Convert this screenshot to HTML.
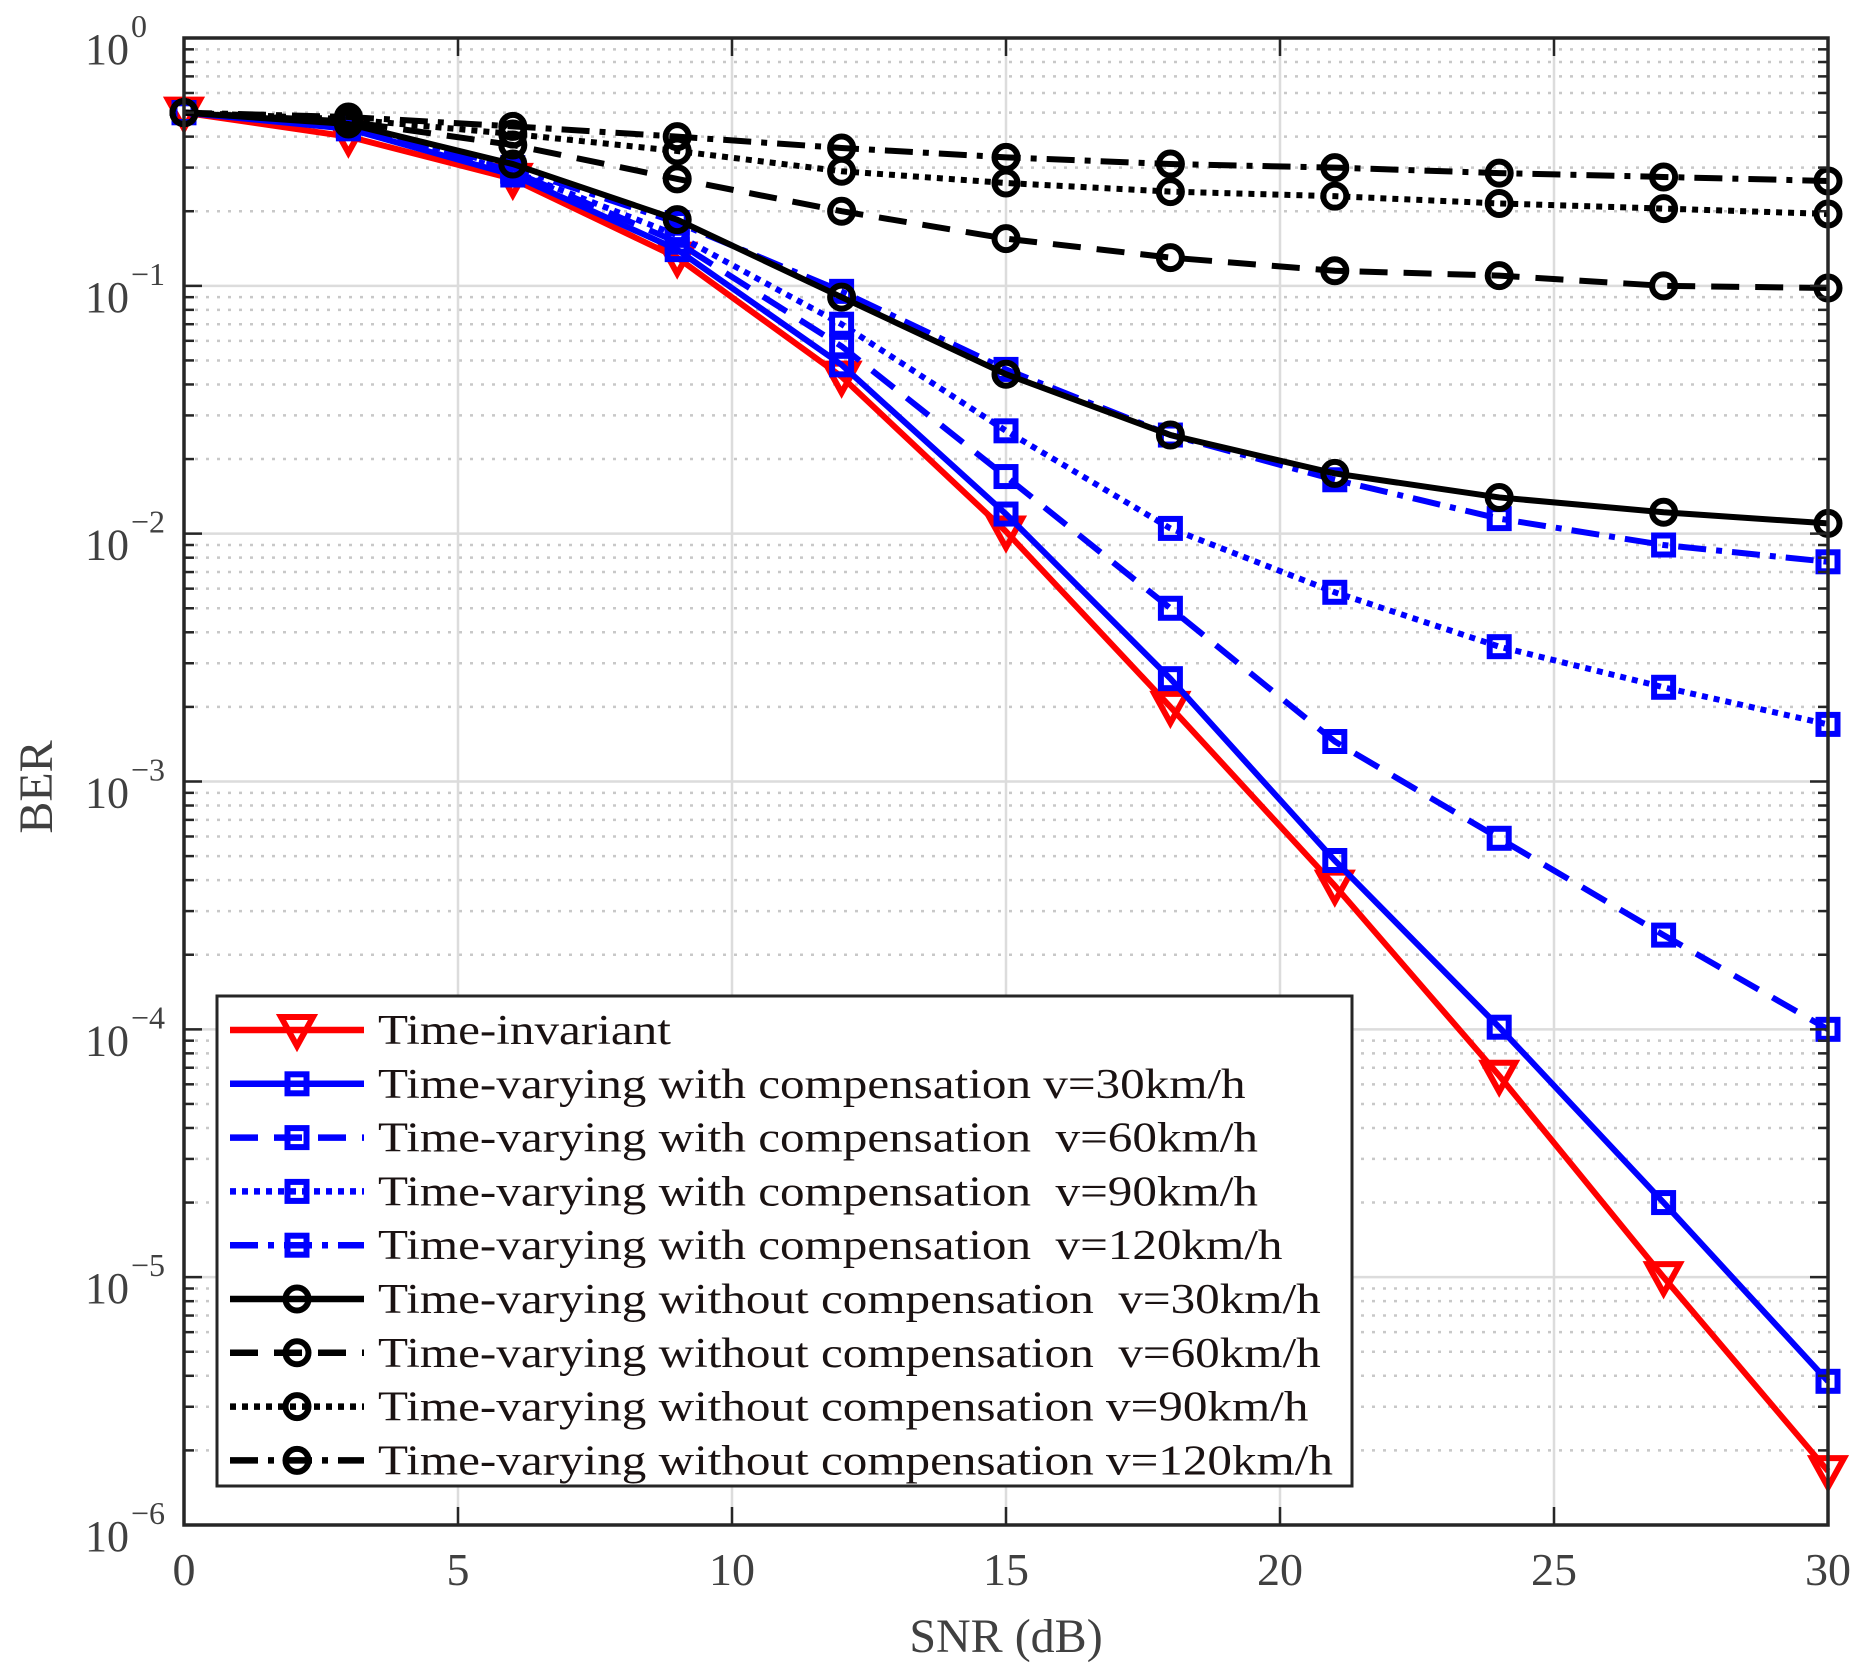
<!DOCTYPE html>
<html><head><meta charset="utf-8"><style>
body{margin:0;background:#fff}
svg text{font-family:"Liberation Serif",serif;fill:#404040;white-space:pre}
</style></head><body>
<svg id="chart" width="1875" height="1673" xmlns="http://www.w3.org/2000/svg" xml:space="preserve">
<g id="grid"></g>
<g id="series"></g>
<g id="axes"></g>
<g id="legend"></g>
</svg>
<script>
const snr=[0,3,6,9,12,15,18,21,24,27,30];
const tiInv=[0.5,0.4,0.27,0.13,0.043,0.0102,0.002,0.00038,6.5e-5,1e-5,1.65e-6];
const comp30=[0.5,0.43,0.28,0.14,0.048,0.012,0.0026,0.00048,0.000102,2e-5,3.8e-6];
const comp60=[0.5,0.44,0.29,0.15,0.057,0.017,0.005,0.00145,0.00059,0.00024,0.0001];
const comp90=[0.5,0.44,0.29,0.16,0.07,0.026,0.0105,0.0058,0.0035,0.0024,0.0017];
const comp120=[0.5,0.45,0.3,0.18,0.095,0.046,0.025,0.0165,0.0115,0.009,0.0077];
const nc30=[0.5,0.45,0.31,0.185,0.09,0.044,0.025,0.0175,0.014,0.0122,0.011];
const nc60=[0.5,0.46,0.37,0.27,0.2,0.155,0.13,0.115,0.11,0.1,0.098];
const nc90=[0.5,0.47,0.41,0.35,0.29,0.26,0.24,0.23,0.215,0.205,0.195];
const nc120=[0.5,0.48,0.44,0.4,0.36,0.33,0.31,0.30,0.285,0.275,0.265];
const xTicks=[0,5,10,15,20,25,30];
const yExps=[0,-1,-2,-3,-4,-5,-6];
const legendLabels=["Time-invariant","Time-varying with compensation v=30km/h","Time-varying with compensation  v=60km/h","Time-varying with compensation  v=90km/h","Time-varying with compensation  v=120km/h","Time-varying without compensation  v=30km/h","Time-varying without compensation  v=60km/h","Time-varying without compensation v=90km/h","Time-varying without compensation v=120km/h"];

const L=184,R=1828,T=38,B=1525;
const X=v=>L+(v-0)/30*(R-L);
const Y=v=>T+(0-Math.log10(v))/6*(B-T);
const NS="http://www.w3.org/2000/svg";
function mk(tag,attrs,parent){const e=document.createElementNS(NS,tag);for(const k in attrs)e.setAttribute(k,attrs[k]);parent.appendChild(e);return e;}
const grid=document.getElementById('grid'),axes=document.getElementById('axes'),ser=document.getElementById('series'),leg=document.getElementById('legend');

for(let d=0;d<6;d++){for(let m=2;m<=9;m++){const y=Y(Math.pow(10,-d-1)*m);
 const g=mk('line',{x1:L,x2:R,y1:y,y2:y,stroke:'#c8c8c8','stroke-width':2.5,'stroke-dasharray':'3 8'},grid);
 
 mk('line',{x1:L,x2:L+10,y1:y,y2:y,stroke:'#262626','stroke-width':2.5},axes);
 mk('line',{x1:R,x2:R-10,y1:y,y2:y,stroke:'#262626','stroke-width':2.5},axes);}}
yExps.forEach(e=>{const y=Y(Math.pow(10,e));
 const g=mk('line',{x1:L,x2:R,y1:y,y2:y,stroke:'#dcdcdc','stroke-width':2.5},grid);
 
 mk('line',{x1:L,x2:L+18,y1:y,y2:y,stroke:'#262626','stroke-width':2.5},axes);
 mk('line',{x1:R,x2:R-18,y1:y,y2:y,stroke:'#262626','stroke-width':2.5},axes);
 const t=mk('text',{x:129,y:y+26,'font-size':44,'text-anchor':'end'},axes);
 
 t.textContent='10';
 const s=mk('text',{x:131,y:y-1,'font-size':32,'text-anchor':'start'},axes);
 
 s.textContent=e===0?'0':'\u2212'+(-e);
});
xTicks.forEach(v=>{const x=X(v);
 const g=mk('line',{x1:x,x2:x,y1:T,y2:B,stroke:'#dcdcdc','stroke-width':2.5},grid);
 
 mk('line',{x1:x,x2:x,y1:B,y2:B-18,stroke:'#262626','stroke-width':2.5},axes);
 mk('line',{x1:x,x2:x,y1:T,y2:T+18,stroke:'#262626','stroke-width':2.5},axes);
 const t=mk('text',{x:x,y:B+60,'font-size':46,'text-anchor':'middle'},axes);
 
 t.textContent=v;});
const box=mk('rect',{x:L,y:T,width:R-L,height:B-T,fill:'none',stroke:'#262626','stroke-width':3.5},axes);

let t=mk('text',{x:(L+R)/2,y:1652,'font-size':48,'text-anchor':'middle'},axes);
t.textContent='SNR (dB)';
t=mk('text',{x:0,y:0,'font-size':48,'text-anchor':'middle',transform:'translate(52,787) rotate(-90)'},axes);
t.textContent='BER';

const defs=[
 {d:tiInv,c:'#ff0000',dash:'',m:'tri'},
 {d:comp30,c:'#0000ff',dash:'',m:'sq'},
 {d:comp60,c:'#0000ff',dash:'28 16',m:'sq'},
 {d:comp90,c:'#0000ff',dash:'6 6',m:'sq'},
 {d:comp120,c:'#0000ff',dash:'28 10 6 10',m:'sq'},
 {d:nc30,c:'#000000',dash:'',m:'ci'},
 {d:nc60,c:'#000000',dash:'28 16',m:'ci'},
 {d:nc90,c:'#000000',dash:'6 6',m:'ci'},
 {d:nc120,c:'#000000',dash:'28 10 6 10',m:'ci'}];
function marker(type,x,y,c,p){
 if(type==='tri')return mk('polygon',{points:`${x-16},${y-13} ${x+16},${y-13} ${x},${y+16}`,fill:'none',stroke:c,'stroke-width':6},p);
 if(type==='sq')return mk('rect',{x:x-9.5,y:y-9.5,width:19,height:19,fill:'none',stroke:c,'stroke-width':6},p);
 return mk('circle',{cx:x,cy:y,r:11.5,fill:'none',stroke:c,'stroke-width':6},p);}
defs.forEach((s,i)=>{
 const g=mk('g',{},ser);
 const pts=s.d.map((v,j)=>X(snr[j])+','+Y(v)).join(' ');
 mk('polyline',{points:pts,fill:'none',stroke:s.c,'stroke-width':6,'stroke-dasharray':s.dash},g);
 s.d.forEach((v,j)=>{const m=marker(s.m,X(snr[j]),Y(v),s.c,g);
  });
});
const lb=mk('rect',{x:217,y:996,width:1135,height:490,fill:'#fff',stroke:'#262626','stroke-width':3},leg);

defs.forEach((s,i)=>{const y=1030+i*53.8;
 const g=mk('g',{},leg);
 mk('line',{x1:230,x2:364,y1:y,y2:y,stroke:s.c,'stroke-width':6.5,'stroke-dasharray':s.dash},g);
 marker(s.m,297,y,s.c,g);
 const tt=mk('text',{x:0,y:0,'font-size':42,transform:`translate(378,${y+14}) scale(1.17,1)`},g);
 tt.setAttribute('style','fill:#1a1212');tt.textContent=legendLabels[i];
});
</script>
</body></html>
